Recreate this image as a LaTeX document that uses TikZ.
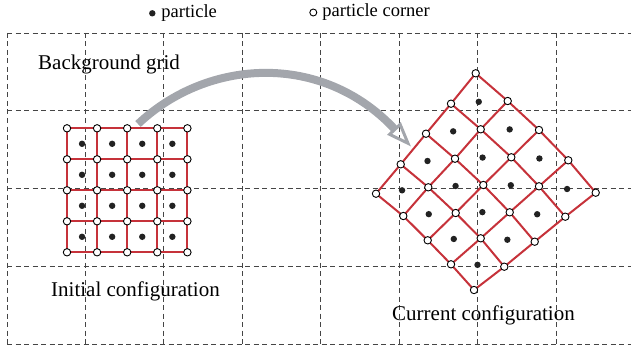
\documentclass[tikz,border=0pt]{standalone}
\usepackage{fontspec}
\setmainfont{Liberation Serif}
\usetikzlibrary{arrows.meta,positioning,calc}
\definecolor{mesh}{HTML}{C6323A}
\definecolor{arrowgray}{HTML}{A3A6AC}
\definecolor{gridline}{HTML}{454545}
\definecolor{dot}{HTML}{222222}
\tikzset{
  bggrid/.style={gridline,line width=0.9pt,dash pattern=on 5pt off 3.5pt},
  meshline/.style={mesh,line width=2pt,line join=round},
  corner/.style={circle,draw=black,fill=white,line width=0.9pt,inner sep=0pt,minimum size=7.4pt},
  particle/.style={circle,fill=dot,inner sep=0pt,minimum size=6.4pt},
  txt/.style={font=\fontsize{21}{25}\selectfont,inner sep=0pt,anchor=base west},
  legend/.style={font=\fontsize{18.5}{22}\selectfont,inner sep=0pt}
}

\begin{document}
\begin{tikzpicture}[x=1pt,y=-1pt]
  \useasboundingbox (0,0) rectangle (631,350);
  % background grid
  \foreach \gx in {7,85,163.5,242,320.5,399,477.5,556}
    \draw[bggrid] (\gx,33) -- (\gx,344);
  \foreach \gy in {33,110.5,188.5,266.5,344}
    \draw[bggrid] (7,\gy) -- (631,\gy);
  % initial mesh
  \foreach \i in {0,...,4}
    \foreach \j in {0,...,4}
      \coordinate (a-\i-\j) at ({67+30.1*\i},{128.3+31*\j});
  % current mesh
  \foreach \r/\k/\px/\py in {0/0/475.7/73.3, 0/1/451/103.7, 0/2/426/133.7, 0/3/400.7/164.3, 0/4/376/193.7,
      1/0/507.7/101, 1/1/480.7/129.3, 1/2/455/158.7, 1/3/428.3/187.3, 1/4/403.3/216,
      2/0/539/130, 2/1/511.3/157.3, 2/2/483.3/185, 2/3/455.7/213, 2/4/427.7/240.3,
      3/0/568.3/160.3, 3/1/539/186.3, 3/2/509.7/212.3, 3/3/480.7/238.3, 3/4/451/264.3,
      4/0/595.7/192.7, 4/1/565.3/216.7, 4/2/534.7/241.7, 4/3/504.3/266.7, 4/4/474/290}
    \coordinate (b-\r-\k) at (\px,\py);
  \coordinate (arrstart) at (138,124);
  \coordinate (arrend) at (411,146.5);
  \draw[arrowgray,line width=8pt,-{Triangle[open,length=25pt,width=18pt,line width=3pt]}]
    (arrstart) .. controls (208,58) and (322,52) .. (arrend);
  \foreach \i in {0,...,4} {
    \draw[meshline] (a-\i-0) -- (a-\i-1) -- (a-\i-2) -- (a-\i-3) -- (a-\i-4);
    \draw[meshline] (a-0-\i) -- (a-1-\i) -- (a-2-\i) -- (a-3-\i) -- (a-4-\i);
    \draw[meshline] (b-\i-0) -- (b-\i-1) -- (b-\i-2) -- (b-\i-3) -- (b-\i-4);
    \draw[meshline] (b-0-\i) -- (b-1-\i) -- (b-2-\i) -- (b-3-\i) -- (b-4-\i);
  }
  \foreach \i [count=\ii from 1] in {0,...,3}
    \foreach \j [count=\jj from 1] in {0,...,3} {
      \node[particle] at ($(a-\i-\j)!.5!(a-\ii-\jj)$) {};
      \node[particle] at ($.25*(b-\i-\j)+.25*(b-\ii-\j)+.25*(b-\i-\jj)+.25*(b-\ii-\jj)$) {};
    }
  \foreach \i in {0,...,4}
    \foreach \j in {0,...,4} {
      \node[corner] at (a-\i-\j) {};
      \node[corner] at (b-\i-\j) {};
    }
  \node[txt] (bglabel) at (38,70) {Background grid};
  \node[txt] (initlabel) at (51,296) {Initial configuration};
  \node[txt] (curlabel) at (392,320) {Current configuration};
  \node[particle] (legdot) at (152.3,13.3) {};
  \node[legend,right=5.5pt of legdot] (legdottext) {particle};
  \node[corner,minimum size=7pt] (legcorner) at (313.3,12.5) {};
  \node[legend,right=5pt of legcorner] (legcornertext) {particle corner};
\end{tikzpicture}
\end{document}
